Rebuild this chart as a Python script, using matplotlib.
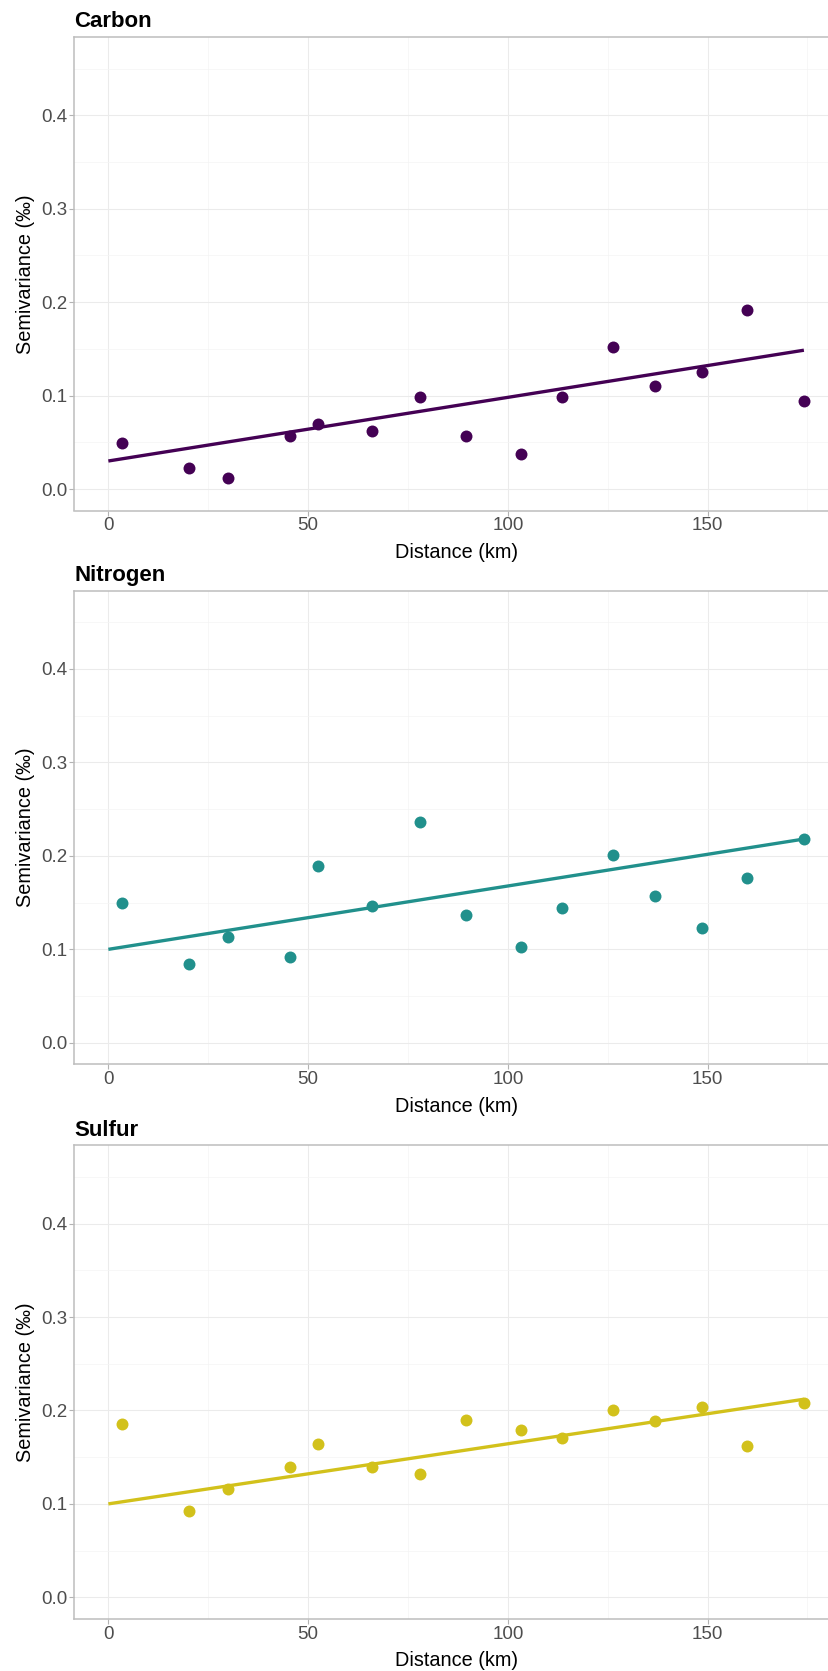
import matplotlib
matplotlib.use("Agg")
import matplotlib.pyplot as plt
import numpy as np
from matplotlib.ticker import MultipleLocator

plt.rcParams['font.family'] = ['Liberation Sans', 'DejaVu Sans']

# ---- data ----
distance = [3.5, 20.1, 29.9, 45.4, 52.6, 66.0, 78.0, 89.5, 103.2, 113.6,
            126.2, 136.9, 148.5, 159.9, 174.1]

carbon = [0.049, 0.022, 0.012, 0.057, 0.070, 0.062, 0.098, 0.057, 0.038, 0.099,
          0.152, 0.110, 0.125, 0.192, 0.094]
nitrogen = [0.150, 0.084, 0.113, 0.092, 0.189, 0.146, 0.236, 0.137, 0.103, 0.144,
            0.201, 0.157, 0.123, 0.176, 0.218]
sulfur = [0.186, 0.092, 0.116, 0.140, 0.164, 0.139, 0.132, 0.190, 0.179, 0.171,
          0.200, 0.189, 0.204, 0.162, 0.208]

line_x = [0.0, 174.1]
carbon_line = [0.030, 0.1486]
nitrogen_line = [0.100, 0.218]
sulfur_line = [0.100, 0.212]

panels = ["Carbon", "Nitrogen", "Sulfur"]
values = [carbon, nitrogen, sulfur]
lines = [carbon_line, nitrogen_line, sulfur_line]
colors = ["#440154", "#21908C", "#D2C11B"]

x_ticks = [0, 50, 100, 150]
y_ticks = [0.0, 0.1, 0.2, 0.3, 0.4]
y_tick_labels = ["0.0", "0.1", "0.2", "0.3", "0.4"]

# ---- layout ----
W, H = 829, 1671
fig = plt.figure(figsize=(W / 100, H / 100), dpi=100)

xlim = (-8.6, 182.7)
ylim = (-0.023, 0.4837)
left_px = 74
width_px = (xlim[1] - xlim[0]) * 3.995
tops = [37.2, 590.7, 1145.4]
bottoms = [510.5, 1064.3, 1618.8]

for name, vals, ln, col, top, bot in zip(panels, values, lines, colors, tops, bottoms):
    ax = fig.add_axes([left_px / W, 1 - bot / H, width_px / W, (bot - top) / H])
    ax.set_xlim(*xlim)
    ax.set_ylim(*ylim)
    ax.set_xticks(x_ticks)
    ax.set_xticklabels([str(t) for t in x_ticks])
    ax.set_yticks(y_ticks)
    ax.set_yticklabels(y_tick_labels)
    ax.xaxis.set_minor_locator(MultipleLocator(25))
    ax.yaxis.set_minor_locator(MultipleLocator(0.05))
    ax.grid(which='major', color='#EBEBEB', linewidth=0.75, zorder=0)
    ax.grid(which='minor', color='#F4F4F4', linewidth=0.5, zorder=0)
    ax.set_axisbelow(True)
    for s in ax.spines.values():
        s.set_color('#BDBDBD')
        s.set_linewidth(1.1)
    ax.tick_params(which='major', length=3.5, width=0.8, color='#B3B3B3',
                   labelsize=13.5, labelcolor='#4D4D4D', pad=1.5)
    ax.tick_params(which='minor', length=0)

    ax.plot(line_x, ln, color=col, linewidth=2.4, zorder=3, solid_capstyle='butt')
    ax.scatter(distance, vals, s=74, color=col, zorder=4, linewidths=0)

    ax.set_xlabel("Distance (km)", fontsize=14.3, color='black', labelpad=6)
    ax.set_ylabel("Semivariance (‰)", fontsize=14.3, color='black', labelpad=4.5)
    ax.set_title(name, loc='left', fontsize=16, fontweight='bold', pad=7)

fig.savefig("out.png", dpi=100)
